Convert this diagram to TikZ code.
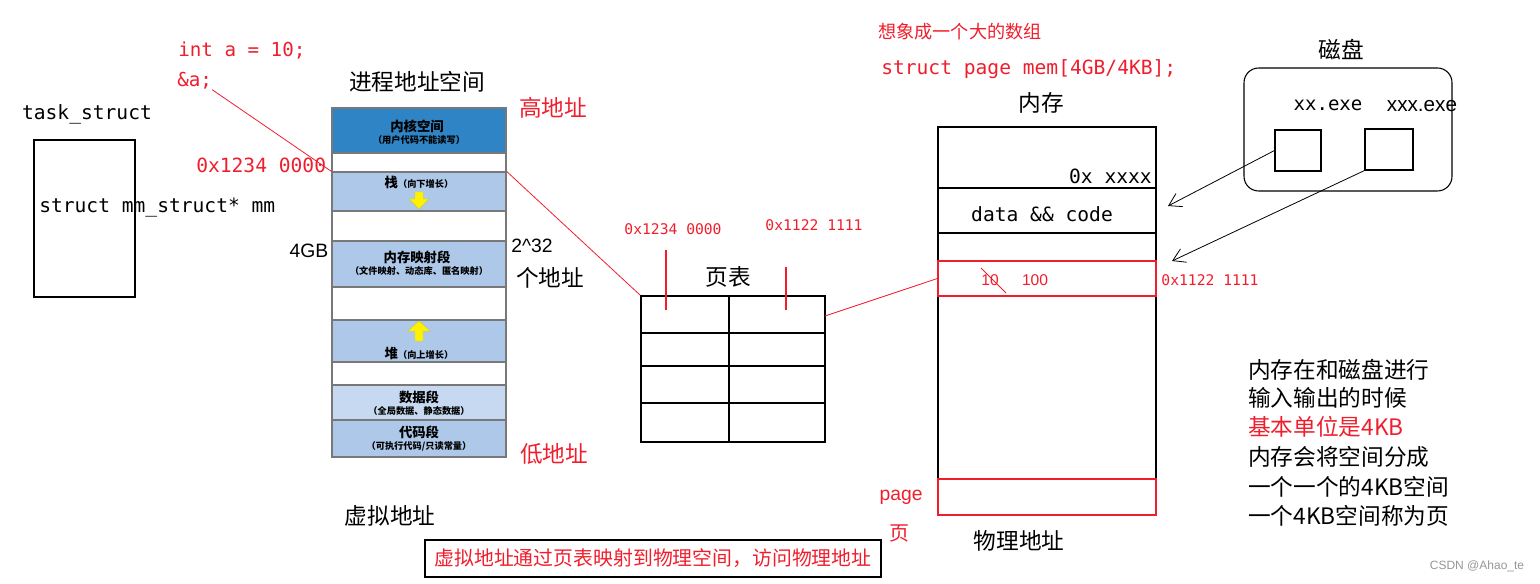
\documentclass[tikz,border=0pt]{standalone}
\usepackage{fontspec}
\setmainfont{Noto Sans CJK SC}
\newfontfamily\mono{DejaVu Sans Mono}
\newfontfamily\lsans{Liberation Sans}
\usetikzlibrary{fit,arrows.meta}
\definecolor{kblue}{RGB}{46,132,196}
\definecolor{lblue}{RGB}{173,200,232}
\definecolor{dblue}{RGB}{198,217,240}
\definecolor{segline}{RGB}{120,120,120}
\definecolor{myred}{RGB}{240,30,45}
\definecolor{csdn}{RGB}{150,150,150}
\begin{document}
\begin{tikzpicture}[x=0.75pt,y=-0.75pt,
  box/.style={draw, inner sep=0pt, line width=0.8pt},
  seg/.style={draw=segline, inner sep=0pt, line width=0.9pt},
  cn/.style={inner sep=0pt, font=\fontsize{17}{20}\selectfont},
  cnr/.style={cn, text=myred},
  mn/.style={inner sep=0pt, font=\mono\fontsize{14.7}{17}\selectfont},
  mnr/.style={mn, text=myred},
  smr/.style={inner sep=0pt, text=myred, font=\mono\fontsize{11}{13}\selectfont},
  segt/.style={inner sep=0pt, font=\bfseries\fontsize{10}{12}\selectfont},
  segs/.style={inner sep=0pt, font=\bfseries\fontsize{6.9}{8}\selectfont},
  redline/.style={draw=myred, line width=0.6pt},
  diskarrow/.style={draw, line width=0.6pt, -{Straight Barb[length=9pt,width=11pt]}},
  yarrow/.style={fill=yellow, draw=yellow!80!black, line width=0.3pt}]
\useasboundingbox (0,0) rectangle (1540,584);

% task_struct
\node[mn] (tasklbl) at (87,114) {task\_struct};
\node[box, fit={(34,140) (135,297)}] (taskbox) {};
\node[mn, anchor=west] (mmtxt) at (39,208) {struct mm\_struct* mm};

% code text
\node[mnr, anchor=west, font=\mono\fontsize{14.4}{17}\selectfont] (inta) at (178,51) {int a = 10;};
\node[mnr, anchor=west, font=\mono\fontsize{14.4}{17}\selectfont] (amp) at (177,81) {\&a;};
\node[mnr, anchor=west] (addr1) at (196,165) {0x1234 0000};

% address space
\node[cn] (vastitle) at (417,82) {进程地址空间};
\node[seg, fill=kblue, fit={(332,108) (506,153)}] (kern) {};
\node[seg, fill=white, fit={(332,153) (506,172)}] (gap1) {};
\node[seg, fill=lblue, fit={(332,172) (506,211)}] (stack) {};
\node[seg, fill=white, fit={(332,211) (506,241)}] (gap2) {};
\node[seg, fill=lblue, fit={(332,241) (506,287)}] (mmap) {};
\node[seg, fill=white, fit={(332,287) (506,320)}] (gap3) {};
\node[seg, fill=lblue, fit={(332,320) (506,362)}] (heap) {};
\node[seg, fill=white, fit={(332,362) (506,385)}] (gap4) {};
\node[seg, fill=dblue, fit={(332,385) (506,420)}] (dataseg) {};
\node[seg, fill=lblue, fit={(332,420) (506,457)}] (codeseg) {};

\node[segt] (kt) at (417,126) {内核空间};
\node[segs] (ks) at (419,140) {（用户代码不能读写）};
\node[segt] (st) at (419,182) {栈{\fontsize{6.9}{8}\selectfont（向下增长）}};
\node[segt] (mt) at (417,257) {内存映射段};
\node[segs] (ms) at (419,271) {（文件映射、动态库、匿名映射）};
\node[segt] (ht) at (419,353) {堆{\fontsize{6.9}{8}\selectfont（向上增长）}};
\node[segt] (dt) at (419,397) {数据段};
\node[segs] (ds) at (419,411) {（全局数据、静态数据）};
\node[segt] (ct) at (419,432) {代码段};
\node[segs] (cs) at (419,446) {（可执行代码/只读常量）};

% yellow arrows
\path[yarrow] (415,192) -- (423,192) -- (423,199) -- (429,199) -- (419,209) -- (409,199) -- (415,199) -- cycle;
\path[yarrow] (415,341) -- (423,341) -- (423,331) -- (430,331) -- (419,321) -- (408,331) -- (415,331) -- cycle;

\node[cnr] (hi) at (553,108) {高地址};
\node[cnr] (lo) at (554,454) {低地址};
\node[inner sep=0pt, font=\lsans\fontsize{14.5}{16}\selectfont] (fourgb) at (309,251) {4GB};
\node[inner sep=0pt, font=\lsans\fontsize{14.5}{16}\selectfont] (pow) at (532,246) {2\^{}32};
\node[cn] (naddr) at (550,278) {个地址};
\node[cn] (vaddr) at (390,516) {虚拟地址};

% page table
\node[cn] (pttitle) at (728,277) {页表};
\node[box, line width=1.2pt, fit={(641,296) (825,442)}] (ptab) {};
\draw[line width=1.2pt] (729,296) -- (729,442);
\draw[line width=1.2pt] (641,333) -- (825,333);
\draw[line width=1.2pt] (641,366) -- (825,366);
\draw[line width=1.2pt] (641,403) -- (825,403);
\node[smr] (pa1) at (673,229) {0x1234 0000};
\node[smr] (pa2) at (814,225) {0x1122 1111};
\coordinate (v1a) at (666,250); \coordinate (v1b) at (666,310);
\coordinate (v2a) at (786,267); \coordinate (v2b) at (786,310);
\draw[redline, line width=0.8pt] (v1a) -- (v1b);
\draw[redline, line width=0.8pt] (v2a) -- (v2b);

% physical memory
\node[cnr, font=\fontsize{13.6}{16}\selectfont] (imag) at (960,32) {想象成一个大的数组};
\node[mnr, anchor=west] (pagedecl) at (881,69) {struct page mem[4GB/4KB];};
\node[cn] (memtitle) at (1041,103) {内存};
\node[box, fit={(938,127) (1156,515)}] (mem) {};
\draw[line width=0.8pt] (938,188) -- (1156,188);
\draw[line width=0.8pt] (938,233) -- (1156,233);
\node[mn, anchor=east] (oxx) at (1152,176) {0x xxxx};
\node[mn] (dc) at (1042,214) {data \&\& code};
\node[draw=myred, line width=0.8pt, inner sep=0pt, fit={(938,261) (1156,296)}] (memrow) {};
\node[draw=myred, line width=0.8pt, inner sep=0pt, fit={(938,479) (1156,515)}] (pagebox) {};
\node[inner sep=0pt, text=myred, font=\lsans\fontsize{11.7}{14}\selectfont] (ten) at (990,280) {10};
\coordinate (sa) at (981,268); \coordinate (sb) at (1006,293);
\draw[redline] (sa) -- (sb);
\node[inner sep=0pt, text=myred, font=\lsans\fontsize{11.7}{14}\selectfont] (hund) at (1035,280) {100};
\node[smr] (pa3) at (1210,280) {0x1122 1111};
\node[inner sep=0pt, text=myred, font=\lsans\fontsize{14.5}{17}\selectfont] (pagew) at (901,497) {page};
\node[cnr, font=\fontsize{15}{18}\selectfont] (yew) at (899,533) {页};
\node[cn] (paddr) at (1019,541) {物理地址};

% disk
\node[cn] (disktitle) at (1341,50) {磁盘};
\node[draw, line width=0.8pt, rounded corners=11pt, inner sep=0pt, fit={(1244,68) (1452,191)}] (disk) {};
\node[mn, font=\mono\fontsize{14.3}{17}\selectfont] (xx) at (1328,105) {xx.exe};
\node[inner sep=0pt, font=\lsans\fontsize{15.5}{18}\selectfont] (xxx) at (1422,106) {xxx.exe};
\node[box, fit={(1275,130) (1321,171)}] (sq1) {};
\node[box, fit={(1365,129) (1413,170)}] (sq2) {};
\coordinate (e1) at (1168,206);
\coordinate (e2) at (1172,261);
\draw[diskarrow] (sq1.west) -- (e1);
\draw[diskarrow] (sq2.south west) -- (e2);

% red connectors
\draw[redline] (amp.south east) -- (stack.north west);
\draw[redline] (stack.north east) -- (ptab.north west);
\coordinate (pe) at (825,316);
\draw[redline] (pe) -- (memrow.west);

% right text
\node[cn, anchor=west] (r1) at (1248,370) {内存在和磁盘进行};
\node[cn, anchor=west] (r2) at (1248,398) {输入输出的时候};
\node[cnr, anchor=west] (r3) at (1248,427) {基本单位是4KB};
\node[cn, anchor=west] (r4) at (1248,457) {内存会将空间分成};
\node[cn, anchor=west] (r5) at (1248,487) {一个一个的4KB空间};
\node[cn, anchor=west] (r6) at (1248,516) {一个4KB空间称为页};

% bottom note
\node[draw, line width=1.6pt, inner sep=0pt, fit={(425,540) (881,577)}] (note) {};
\node[cnr, font=\fontsize{14.9}{18}\selectfont] (notetxt) at (653,558) {虚拟地址通过页表映射到物理空间，访问物理地址};

\node[inner sep=0pt, text=csdn, font=\lsans\fontsize{9}{11}\selectfont] (csdn) at (1477,566) {CSDN @Ahao\_te};
\end{tikzpicture}
\end{document}
